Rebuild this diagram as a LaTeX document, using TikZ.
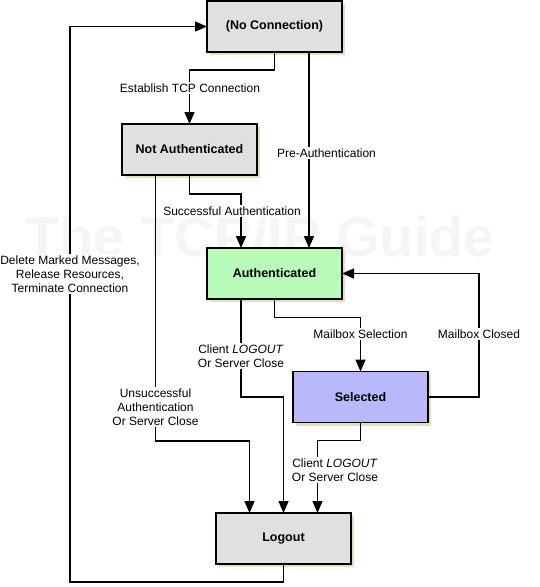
\documentclass[tikz,border=0pt]{standalone}
\usepackage{fontspec}
\setmainfont{Liberation Sans}
\usetikzlibrary{arrows.meta,shadows}
\definecolor{boxgray}{RGB}{224,224,224}
\definecolor{boxgreen}{RGB}{184,250,184}
\definecolor{boxblue}{RGB}{184,184,250}
\definecolor{shadowtan}{RGB}{230,222,190}

\begin{document}
\begin{tikzpicture}[
x=1pt, y=-1pt,
font=\fontsize{12}{14}\selectfont,
    state/.style = {rectangle, draw, line width=1.7pt,% states of the session
                    minimum width=135pt, minimum height=51pt,
                    outer sep=0pt, font=\fontsize{12.5}{14}\selectfont\bfseries,
                    drop shadow={shadow xshift=3pt, shadow yshift=-3pt,
                                 fill=shadowtan, opacity=1}},
    arr/.style  = {line width=1.4pt, -{Triangle[length=12pt,width=10pt]}},
    lbl/.style  = {fill=white, inner sep=1.5pt, align=center},
                        ]
\useasboundingbox (0,0) rectangle (540,587);
% watermark
\node[font=\fontsize{56}{60}\selectfont\bfseries, text=black!4, anchor=base]
    (mark) at (260,256) {The TCP/IP Guide};
% states
\node[state, fill=boxgray]  (nocon)   at (274.5,26.5)  {(No Connection)};
\node[state, fill=boxgray]  (notauth) at (189.5,149.5) {Not Authenticated};
\node[state, fill=boxgreen] (auth)    at (274.5,273.5) {Authenticated};
\node[state, fill=boxblue]  (sel)     at (360.5,397)   {Selected};
\node[state, fill=boxgray]  (logout)  at (283.5,538.5) {Logout};
% transitions
\draw[arr] (nocon.south) -- ++(0,18) -| (notauth.north);
\draw[arr] ([xshift=34.5pt]nocon.south) -- ([xshift=34.5pt]auth.north);
\draw[arr] (notauth.south) -- ++(0,19) -| ([xshift=-33.5pt]auth.north);
\draw[arr] ([xshift=-34pt]notauth.south) -- ++(0,266) -| ([xshift=-34pt]logout.north);
\draw[arr] ([xshift=-33.5pt]auth.south) -- ++(0,98) -| (logout.north);
\draw[arr] (auth.south) -- ++(0,18.5) -| (sel.north);
\draw[arr] (sel.east) -- ++(51,0) |- (auth.east);
\draw[arr] (sel.south) -- ++(0,18) -| ([xshift=34pt]logout.north);
\draw[arr] (logout.south) -- ++(0,18) -| ([xshift=-137pt]nocon.west) -- (nocon.west);
% labels of transitions
\node[lbl] (l-tcp)   at (190,88)     {Establish TCP Connection};
\node[lbl] (l-pre)   at (326.5,153)  {Pre-Authentication};
\node[lbl] (l-succ)  at (232,211)    {Successful Authentication};
\node[lbl] (l-unsu)  at (155.5,407)  {Unsuccessful\\Authentication\\Or Server Close};
\node[lbl] (l-alog)  at (241,356)    {Client \textit{LOGOUT}\\Or Server Close};
\node[lbl] (l-msel)  at (360.5,334)  {Mailbox Selection};
\node[lbl] (l-mclo)  at (479,334)    {Mailbox Closed};
\node[lbl] (l-slog)  at (335,470)    {Client \textit{LOGOUT}\\Or Server Close};
\node[lbl] (l-del)   at (70,274)     {Delete Marked Messages,\\Release Resources,\\Terminate Connection};
\end{tikzpicture}
\end{document}
